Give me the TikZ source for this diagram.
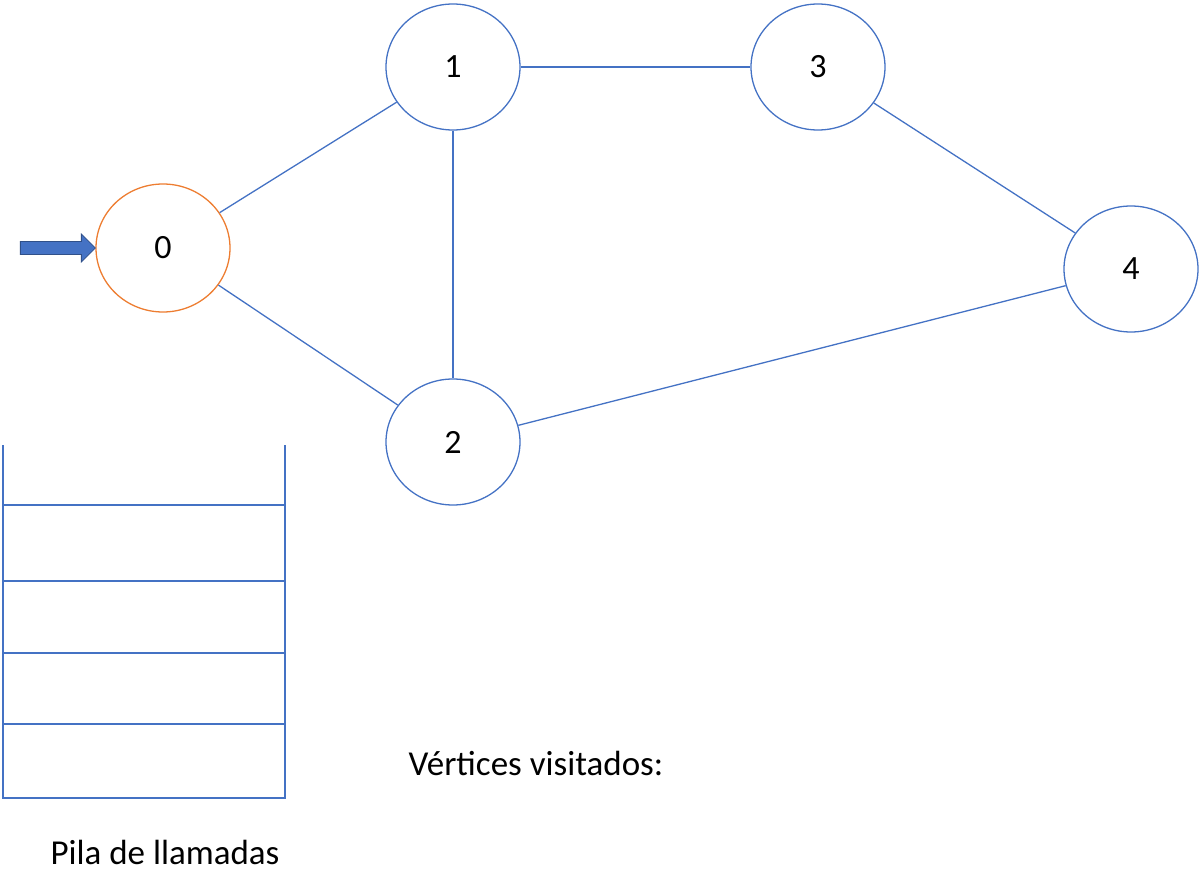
\documentclass[tikz,border=0pt]{standalone}
\usepackage{fontspec}
\setmainfont{Carlito}
\usetikzlibrary{shapes.geometric}
\definecolor{bl}{HTML}{4472C4}
\definecolor{or}{HTML}{ED7D31}
\begin{document}
\begin{tikzpicture}[x=1pt,y=-1pt,
  v/.style={ellipse,draw=bl,line width=1.3pt,minimum width=134pt,minimum height=126pt,inner sep=0pt,font=\fontsize{34}{40}\selectfont},
  e/.style={draw=bl,line width=1.3pt},
  st/.style={draw=bl,line width=2pt},
  lbl/.style={font=\fontsize{35}{42}\selectfont}]
\useasboundingbox (0,0) rectangle (1200,893);
\node[v] (n1) at (453,67) {1};
\node[v] (n3) at (818,67) {3};
\node[v] (n4) at (1131,269) {4};
\node[v] (n2) at (453,442) {2};
\node[v,draw=or,minimum height=128pt] (n0) at (163,248) {0};
\draw[e] (n0) -- (n1);
\draw[e] (n0) -- (n2);
\draw[e] (n1) -- (n3);
\draw[e] (n1) -- (n2);
\draw[e] (n3) -- (n4);
\draw[e] (n2) -- (n4);
\coordinate (tip) at (n0.west);
\fill[bl,draw=bl!70!black,line width=0.8pt] ([xshift=-75pt,yshift=-6.5pt]tip) -- ([xshift=-14pt,yshift=-6.5pt]tip) -- ([xshift=-14pt,yshift=-14pt]tip) -- (tip) -- ([xshift=-14pt,yshift=14pt]tip) -- ([xshift=-14pt,yshift=6.5pt]tip) -- ([xshift=-75pt,yshift=6.5pt]tip) -- cycle;
\coordinate (s1) at (3,445); \coordinate (s2) at (3,798);
\coordinate (s3) at (285,445); \coordinate (s4) at (285,798);
\draw[st] (s1) -- (s2) -- (s4) -- (s3);
\foreach \y in {505,581,653,724} \draw[st] (3,\y) -- (285,\y);
\node[lbl] (vv) at (536,763) {Vértices visitados:};
\node[lbl] (pl) at (165,852) {Pila de llamadas};
\end{tikzpicture}
\end{document}
